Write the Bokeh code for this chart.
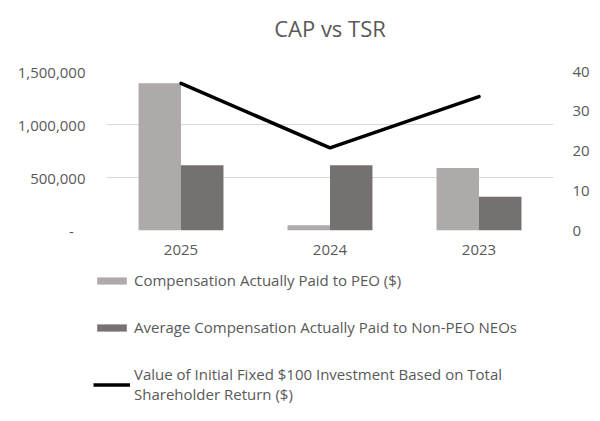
from bokeh.plotting import figure
from bokeh.layouts import column, row
from bokeh.models import (Range1d, LinearAxis, FixedTicker, Legend, LegendItem,
                          ColumnDataSource, Title)
from bokeh.transform import dodge
from bokeh.embed import file_html
from bokeh.resources import INLINE

years = ["2025", "2024", "2023"]
cap_peo = [1390000, 50000, 590000]
cap_neo = [615000, 615000, 318000]
tsr = [37.0, 20.8, 33.7]
left_ticks = [0, 500000, 1000000, 1500000]
left_tick_labels = ["-\u00a0\u00a0\u00a0", "500,000", "1,000,000", "1,500,000"]
right_ticks = [0, 10, 20, 30, 40]

labels = ["Compensation Actually Paid to PEO ($)",
          "Average Compensation Actually Paid to Non-PEO NEOs",
          "Value of Initial Fixed $100 Investment Based on Total\nShareholder Return ($)"]

FONT = "Open Sans"
TXT = "#595959"
GRID = "#D9D9D9"
C_PEO = "#AEAAAA"
C_NEO = "#767171"

src = ColumnDataSource(dict(year=years, peo=cap_peo, neo=cap_neo, tsr=tsr))

W = 592
p = figure(width=W, height=266, x_range=years, y_range=Range1d(0, 1500000),
           output_backend="svg", toolbar_location=None,
           min_border_left=106, min_border_right=39, min_border_top=71,
           min_border_bottom=36)
p.title = None
p.outline_line_color = None
p.extra_y_ranges = {"tsr": Range1d(0, 40)}

r1 = p.vbar(x=dodge("year", -0.1425, range=p.x_range), top="peo", width=0.285,
            source=src, fill_color=C_PEO, line_color=None)
r2 = p.vbar(x=dodge("year", 0.1425, range=p.x_range), top="neo", width=0.285,
            source=src, fill_color=C_NEO, line_color=None)
r3 = p.line(x="year", y="tsr", source=src, y_range_name="tsr",
            line_color="black", line_width=3.5, line_join="round", line_cap="round")

p.yaxis[0].ticker = FixedTicker(ticks=left_ticks)
p.yaxis[0].major_label_overrides = {t: l for t, l in zip(left_ticks, left_tick_labels)}

ry = LinearAxis(y_range_name="tsr", ticker=FixedTicker(ticks=right_ticks))
p.add_layout(ry, "right")

for ax in [p.yaxis[0], ry, p.xaxis[0]]:
    ax.axis_line_color = None
    ax.major_tick_line_color = None
    ax.minor_tick_line_color = None
    ax.major_tick_out = 0
    ax.major_tick_in = 0
    ax.major_label_text_font = FONT
    ax.major_label_text_font_size = "15px"
    ax.major_label_text_color = TXT
p.yaxis[0].major_label_standoff = 21
ry.major_label_standoff = 19
p.xaxis[0].major_label_standoff = 14

p.xgrid.grid_line_color = None
p.ygrid.grid_line_color = GRID
p.ygrid.grid_line_width = 1
p.ygrid.ticker = FixedTicker(ticks=left_ticks)

# spacer (closest to the frame), then the real title above it
p.add_layout(Title(text=" ", text_font_size="1px", standoff=24), "above")
p.add_layout(Title(text="CAP vs TSR", align="center", text_font=FONT,
                   text_font_size="22px", text_color=TXT,
                   text_font_style="normal", standoff=4), "above")

# legend panel (separate figure; dummy renderers lie outside its ranges)
lg = figure(width=W, height=146, x_range=Range1d(0, 1), y_range=Range1d(0, 1),
            output_backend="svg", toolbar_location=None,
            x_axis_type=None, y_axis_type=None,
            min_border_left=0, min_border_right=0, min_border_top=0,
            min_border_bottom=0)
lg.outline_line_color = None
lg.xgrid.visible = False
lg.ygrid.visible = False
dummy = ColumnDataSource(dict(x=[-10, -9], y=[-10, -9]))
d1 = lg.vbar(x="x", top="y", width=0.1, source=dummy, fill_color=C_PEO, line_color=None)
d2 = lg.vbar(x="x", top="y", width=0.1, source=dummy, fill_color=C_NEO, line_color=None)
d3 = lg.line(x="x", y="y", source=dummy, line_color="black", line_width=3.5)

legend = Legend(items=[LegendItem(label=labels[0], renderers=[d1]),
                       LegendItem(label=labels[1], renderers=[d2]),
                       LegendItem(label=labels[2], renderers=[d3])],
                location=(93, 8), orientation="vertical",
                padding=0, spacing=27, margin=0,
                glyph_width=37, glyph_height=9, label_height=20,
                label_standoff=4, label_text_font=FONT,
                label_text_font_size="15px", label_text_color=TXT,
                label_text_line_height=1.38,
                border_line_color=None, background_fill_alpha=0)
lg.add_layout(legend, "center")

layout = column(p, row(lg), spacing=0)
open("out.html", "w").write(file_html(layout, INLINE))
